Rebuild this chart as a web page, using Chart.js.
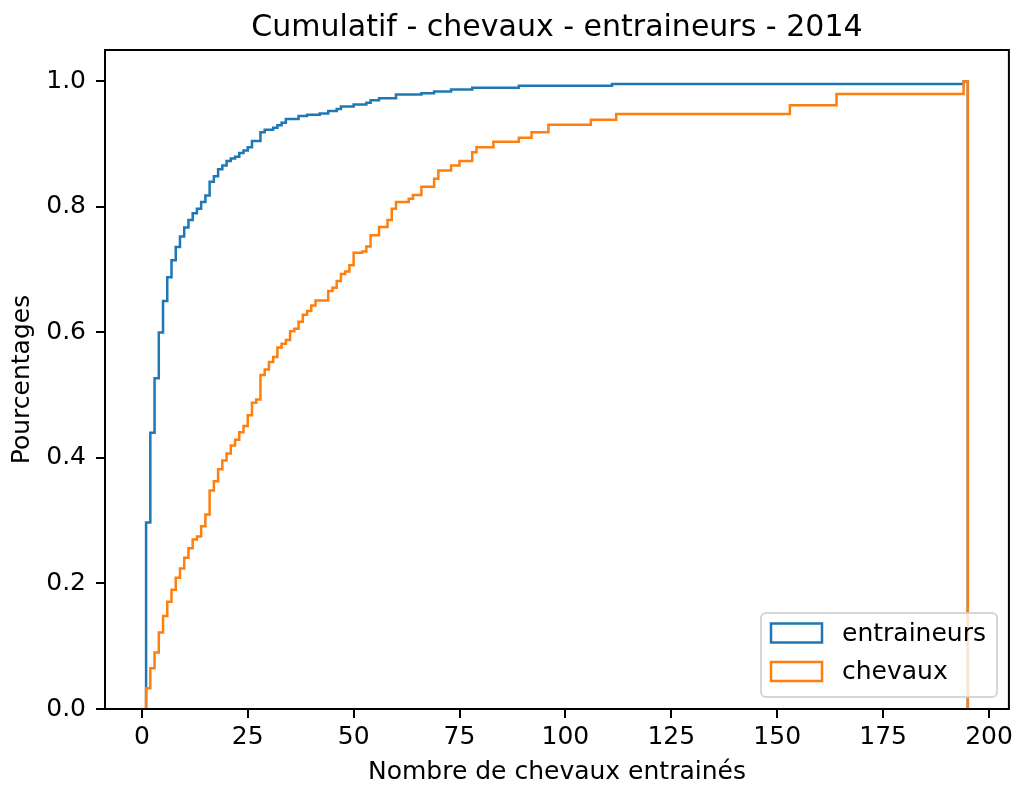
<!DOCTYPE html>
<html>
<head>
<meta charset="utf-8">
<script src="https://cdn.jsdelivr.net/npm/chart.js@4.4.1/dist/chart.umd.min.js"></script>
<style>
  body { margin: 0; background: #fff; }
  canvas { display: block; }
</style>
</head>
<body>
<canvas id="cumul" width="1017" height="789"></canvas>
<script>
// bin edges where the cumulative value changes, and the value from that edge on
const trainerEdges = [1, 2, 3, 4, 5, 6, 7, 8, 9, 10, 11, 12, 13, 14, 15, 16, 17, 18, 19, 20,
  21, 22, 23, 24, 25, 26, 28, 29, 31, 32, 33, 34, 37, 39, 42, 44, 46, 47, 50, 53,
  54, 56, 60, 66, 69, 73, 78, 89, 111, 194];
const trainerCum = [0.297, 0.44, 0.527, 0.60, 0.65, 0.688, 0.715, 0.736, 0.753, 0.767, 0.779, 0.79, 0.797, 0.808, 0.818, 0.84, 0.849, 0.86, 0.866, 0.873,
  0.877, 0.88, 0.886, 0.89, 0.895, 0.905, 0.919, 0.923, 0.926, 0.93, 0.934, 0.94, 0.945, 0.947, 0.949, 0.953, 0.956, 0.96, 0.963, 0.966,
  0.97, 0.973, 0.979, 0.981, 0.984, 0.987, 0.99, 0.993, 0.996, 1.0];

const horseEdges = [1, 2, 3, 4, 5, 6, 7, 8, 9, 10, 11, 12, 13, 14, 15, 16, 17, 18, 19, 20,
  21, 22, 23, 24, 25, 26, 27, 28, 29, 30, 31, 32, 33, 34, 35, 36, 37, 38, 39, 40,
  41, 44, 45, 46, 47, 48, 49, 50, 52, 53, 54, 56, 58, 59, 60, 63, 64, 66, 69, 70,
  73, 75, 78, 79, 83, 89, 92, 96, 106, 112, 153, 164, 194];
const horseCum = [0.033, 0.065, 0.09, 0.122, 0.148, 0.171, 0.19, 0.209, 0.224, 0.241, 0.256, 0.27, 0.275, 0.291, 0.31, 0.348, 0.363, 0.382, 0.396, 0.407,
  0.42, 0.429, 0.441, 0.451, 0.468, 0.488, 0.493, 0.532, 0.541, 0.553, 0.561, 0.576, 0.582, 0.588, 0.602, 0.606, 0.617, 0.628, 0.634, 0.643,
  0.651, 0.666, 0.671, 0.682, 0.693, 0.697, 0.707, 0.727, 0.729, 0.737, 0.755, 0.768, 0.779, 0.797, 0.808, 0.813, 0.819, 0.832, 0.845, 0.858,
  0.866, 0.873, 0.887, 0.895, 0.904, 0.91, 0.919, 0.931, 0.939, 0.948, 0.962, 0.98, 1.0];

const lastEdge = 195;
const xTicks = [0, 25, 50, 75, 100, 125, 150, 175, 200];
const yTicks = [0, 0.2, 0.4, 0.6, 0.8, 1.0];

const labels = ["entraineurs", "chevaux"];
const colors = ["#1f77b4", "#ff7f0e"];
const titleText = "Cumulatif - chevaux - entraineurs - 2014";

// outline of a step histogram: up from 0 at first edge, down to 0 at last edge
function stepPoints(edges, cum) {
  const pts = [{x: edges[0], y: 0}];
  edges.forEach((e, i) => pts.push({x: e, y: cum[i]}));
  pts.push({x: lastEdge, y: cum[cum.length - 1]});
  pts.push({x: lastEdge, y: 0});
  return pts;
}

Chart.defaults.font.family = "'DejaVu Sans', sans-serif";
Chart.defaults.color = "#000";

const extras = {
  id: "extras",
  afterDatasetsDraw(chart) {
    const ctx = chart.ctx;
    const a = chart.chartArea;
    ctx.save();
    // frame
    ctx.strokeStyle = "#000";
    ctx.lineWidth = 2;
    ctx.strokeRect(a.left, a.top, a.right - a.left, a.bottom - a.top);
    // title
    ctx.fillStyle = "#000";
    ctx.font = "30px 'DejaVu Sans'";
    ctx.textAlign = "center";
    ctx.textBaseline = "alphabetic";
    ctx.fillText(titleText, (a.left + a.right) / 2, 36);
    // legend
    const lx = 761, ly = 613, lw = 236, lh = 84;
    ctx.beginPath();
    ctx.roundRect(lx, ly, lw, lh, 5);
    ctx.fillStyle = "rgba(255,255,255,0.8)";
    ctx.fill();
    ctx.strokeStyle = "rgba(204,204,204,0.8)";
    ctx.lineWidth = 2;
    ctx.stroke();
    ctx.font = "25px 'DejaVu Sans'";
    ctx.textAlign = "left";
    ctx.textBaseline = "middle";
    labels.forEach((lab, i) => {
      const cy = 633 + i * 38.5;
      ctx.strokeStyle = colors[i];
      ctx.lineWidth = 2.5;
      ctx.strokeRect(771, cy - 9.5, 51, 19);
      ctx.fillStyle = "#000";
      ctx.fillText(lab, 842, cy + 1);
    });
    ctx.restore();
  }
};

new Chart(document.getElementById("cumul"), {
  type: "line",
  data: {
    datasets: [
      {
        label: labels[0],
        data: stepPoints(trainerEdges, trainerCum),
        borderColor: colors[0],
        borderWidth: 2.5,
        stepped: "before",
        pointRadius: 0,
        fill: false,
        order: 2
      },
      {
        label: labels[1],
        data: stepPoints(horseEdges, horseCum),
        borderColor: colors[1],
        borderWidth: 2.5,
        stepped: "before",
        pointRadius: 0,
        fill: false,
        order: 1
      }
    ]
  },
  options: {
    responsive: false,
    animation: false,
    layout: { padding: { left: 0, top: 50, right: 7, bottom: 0 } },
    plugins: {
      legend: { display: false },
      title: { display: false },
      tooltip: { enabled: false }
    },
    scales: {
      x: {
        type: "linear",
        min: -8.7,
        max: 204.7,
        afterBuildTicks: (scale) => { scale.ticks = xTicks.map(v => ({value: v})); },
        afterFit: (scale) => { scale.height = 80; },
        grid: { drawOnChartArea: false, drawTicks: true, tickLength: 9, color: "#000", lineWidth: 2 },
        border: { display: false },
        ticks: { font: { size: 25 }, padding: 4, maxRotation: 0, callback: (v) => String(v) },
        title: { display: true, text: "Nombre de chevaux entrainés", font: { size: 25 }, padding: { top: 0, bottom: 2 } }
      },
      y: {
        min: 0,
        max: 1.05,
        afterBuildTicks: (scale) => { scale.ticks = yTicks.map(v => ({value: v})); },
        afterFit: (scale) => { scale.width = 105; },
        grid: { drawOnChartArea: false, drawTicks: true, tickLength: 9, color: "#000", lineWidth: 2 },
        border: { display: false },
        ticks: { font: { size: 25 }, padding: 10, callback: (v) => v.toFixed(1) },
        title: { display: true, text: "Pourcentages", font: { size: 25 }, padding: { top: 7, bottom: 0 } }
      }
    }
  },
  plugins: [extras]
});
</script>
</body>
</html>
